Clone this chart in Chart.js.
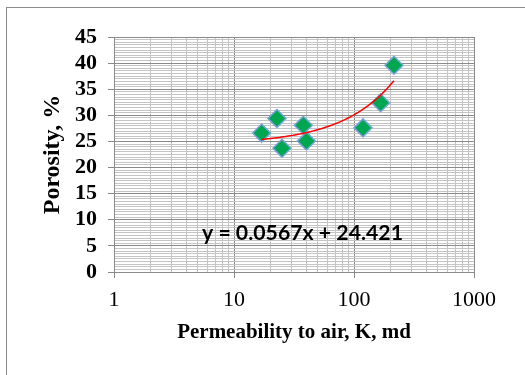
<!DOCTYPE html>
<html>
<head>
<meta charset="utf-8">
<script src="https://cdn.jsdelivr.net/npm/chart.js@4/dist/chart.umd.min.js"></script>
<style>
  html, body { margin: 0; padding: 0; background: #fff; overflow: hidden; }
  #wrap { position: relative; width: 525px; height: 375px; }
  #frame { position: absolute; left: 6px; top: 7px; width: 600px; height: 450px; border: 1px solid #8c8c8c; }
  #mychart { position: absolute; left: 0; top: 0; }
</style>
</head>
<body>
<div id="wrap">
  <div id="frame"></div>
  <canvas id="mychart" width="525" height="375"></canvas>
</div>
<script>
// permeability (md) and porosity (%)
let permeability = [17.0, 22.8, 25.1, 37.8, 40.1, 118.9, 166.7, 215.4]
let porosity = [26.6, 29.4, 23.7, 28.1, 25.1, 27.6, 32.4, 39.6]
// linear trendline shown on the chart
let slope = 0.0567
let intercept = 24.421
let xTickLabels = [1, 10, 100, 1000]
let yMin = 0, yMax = 45, yMajor = 5, yMinor = 0.5

let points = permeability.map((k, i) => ({x: k, y: porosity[i]}))

// sample the trendline in log space so it shows as a smooth curve
let kMin = Math.min(...permeability), kMax = Math.max(...permeability)
let trend = []
for (let i = 0; i <= 60; i++) {
  let k = kMin * Math.pow(kMax / kMin, i / 60)
  trend.push({x: k, y: slope * k + intercept})
}

let isMajorY = v => Math.abs(v / yMajor - Math.round(v / yMajor)) < 1e-6
let isMajorX = v => Math.abs(Math.log10(v) - Math.round(Math.log10(v))) < 1e-6

let equation = {
  id: 'equation',
  afterDatasetsDraw(chart) {
    let c = chart.ctx, a = chart.chartArea
    let text = 'y = ' + slope + 'x + ' + intercept
    c.save()
    c.font = 'bold 20px Lato'
    c.fillStyle = '#000'
    c.textBaseline = 'middle'
    // the label in the original is a little wider than Lato, stretch it
    let sx = 201 / c.measureText(text).width
    c.translate(a.left + 88, a.top + 197)
    c.scale(sx, 1)
    c.fillText(text, 0, 0)
    c.restore()
  }
}

let ctx = document.getElementById('mychart').getContext('2d')
let myChart = new Chart(ctx, {
  type: 'scatter',
  data: {
    datasets: [{
      label: 'Linear',
      data: trend,
      showLine: true,
      borderColor: '#ff0000',
      borderWidth: 1.5,
      pointRadius: 0,
      tension: 0
    }, {
      label: 'Porosity',
      data: points,
      pointStyle: 'rectRot',
      pointRadius: 9,
      pointHoverRadius: 9,
      backgroundColor: '#00a650',
      borderColor: '#74a4d8',
      borderWidth: 1.5
    }]
  },
  options: {
    responsive: false,
    animation: false,
    events: [],
    layout: { padding: { top: 37, right: 51, bottom: 0, left: 0 } },
    plugins: { legend: { display: false }, tooltip: { enabled: false } },
    scales: {
      x: {
        type: 'logarithmic',
        min: 1,
        max: 1000,
        afterBuildTicks(scale) {
          let t = []
          for (let d = 1; d < 1000; d *= 10)
            for (let m = 1; m < 10; m++) t.push({value: m * d})
          t.push({value: 1000})
          scale.ticks = t
        },
        afterFit(scale) { scale.height = 103 },
        ticks: {
          autoSkip: false,
          maxRotation: 0,
          padding: 9,
          color: '#000',
          font: { family: 'Liberation Serif', size: 22 },
          callback: v => isMajorX(v) && xTickLabels.includes(Math.round(v)) ? String(Math.round(v)) : ''
        },
        grid: {
          color: c => isMajorX(c.tick.value) ? '#8a8a8a' : '#c4c4c4',
          tickColor: c => isMajorX(c.tick.value) ? '#8a8a8a' : 'rgba(0,0,0,0)',
          tickLength: 6
        },
        border: { color: '#8a8a8a' },
        title: {
          display: true,
          text: 'Permeability to air, K, md',
          color: '#000',
          font: { family: 'Liberation Serif', size: 21, weight: 'bold' },
          padding: { top: 0, bottom: 30 }
        }
      },
      y: {
        min: yMin,
        max: yMax,
        afterBuildTicks(scale) {
          let t = []
          for (let v = yMin; v <= yMax + 1e-9; v += yMinor) t.push({value: Math.round(v * 10) / 10})
          scale.ticks = t
        },
        afterFit(scale) { scale.width = 114 },
        ticks: {
          autoSkip: false,
          padding: 11,
          color: '#000',
          font: { family: 'Liberation Serif', size: 22, weight: 'bold' },
          callback: v => isMajorY(v) ? String(v) : ''
        },
        grid: {
          color: c => isMajorY(c.tick.value) ? '#8a8a8a' : '#c4c4c4',
          tickColor: c => isMajorY(c.tick.value) ? '#8a8a8a' : 'rgba(0,0,0,0)',
          tickLength: 6
        },
        border: { color: '#8a8a8a' },
        title: {
          display: true,
          text: 'Porosity, %',
          color: '#000',
          font: { family: 'Liberation Serif', size: 24, weight: 'bold' },
          padding: { top: 38, bottom: 0 }
        }
      }
    }
  },
  plugins: [equation]
})
</script>
</body>
</html>
